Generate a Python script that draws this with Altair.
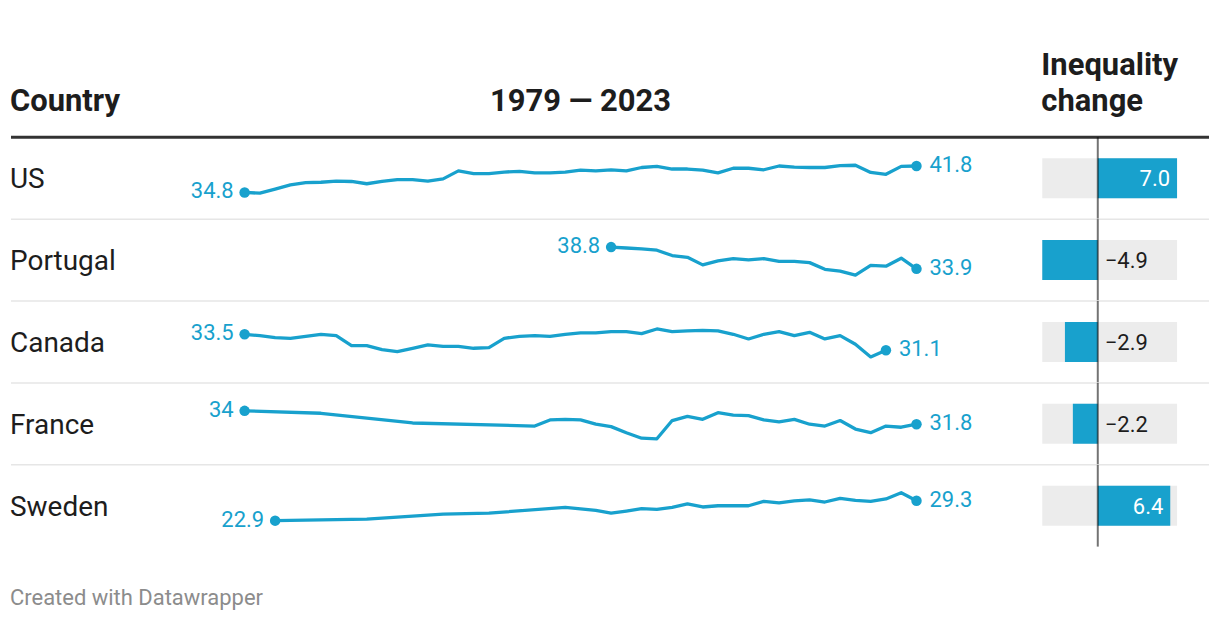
import altair as alt
import pandas as pd

BLUE = "#18a1cd"
DARK = "#1d1d1d"
FONT = "Roboto"

# ---------------- data ----------------
countries = ["US", "Portugal", "Canada", "France", "Sweden"]
changes = [7.0, -4.9, -2.9, -2.2, 6.4]

us_years = list(range(1979, 2024))
us_values = [34.8, 34.6, 35.7, 36.8, 37.4, 37.5, 37.8, 37.7, 37.1, 37.7,
             38.2, 38.2, 37.8, 38.4, 40.5, 39.8, 39.8, 40.2, 40.4, 40.0,
             40.0, 40.2, 40.7, 40.5, 40.8, 40.5, 41.4, 41.7, 41.0, 41.0,
             40.7, 40.0, 41.2, 41.2, 40.8, 41.8, 41.5, 41.4, 41.4, 41.9,
             42.0, 40.1, 39.6, 41.7, 41.8]

portugal_years = list(range(2003, 2024))
portugal_values = [38.8, 38.6, 38.4, 38.1, 36.9, 36.5, 34.8, 35.7, 36.2, 35.9,
                   36.2, 35.6, 35.6, 35.3, 33.8, 33.4, 32.5, 34.7, 34.5, 36.3,
                   33.9]

canada_years = list(range(1979, 2022))
canada_values = [33.5, 33.3, 33.0, 32.9, 33.2, 33.5, 33.3, 31.8, 31.8, 31.2,
                 30.9, 31.4, 31.9, 31.7, 31.7, 31.4, 31.5, 32.9, 33.2, 33.3,
                 33.2, 33.5, 33.7, 33.7, 33.9, 33.9, 33.6, 34.3, 33.9, 34.0,
                 34.1, 34.0, 33.5, 32.8, 33.5, 33.9, 33.3, 33.8, 32.8, 33.3,
                 32.0, 30.1, 31.1]

france_years = [1979, 1984, 1990] + list(range(1998, 2024))
france_values = [34.0, 33.6, 32.0,
                 31.5, 32.5, 32.6, 32.5, 31.8, 31.4, 30.4, 29.5, 29.4, 32.4,
                 33.1, 32.6, 33.7, 33.3, 33.2, 32.5, 32.2, 32.6, 31.8, 31.5,
                 32.4, 31.0, 30.4, 31.5, 31.3, 31.8]

sweden_years = [1981, 1987, 1992, 1995, 2000] + list(range(2001, 2024))
sweden_values = [22.9, 23.4, 25.0, 25.3, 27.2,
                 26.7, 26.2, 25.3, 26.0, 26.8, 26.5, 27.2, 28.3, 27.3, 27.7,
                 27.7, 27.7, 29.1, 28.6, 29.3, 29.6, 28.9, 30.1, 29.4, 29.1,
                 29.9, 31.9, 29.3]

header_country = "Country"
header_change = ["Inequality", "change"]
footer_text = "Created with Datawrapper"

series = {
    "US": (us_years, us_values),
    "Portugal": (portugal_years, portugal_values),
    "Canada": (canada_years, canada_values),
    "France": (france_years, france_values),
    "Sweden": (sweden_years, sweden_values),
}

first_year = min(min(y) for y, _ in series.values())
last_year = max(max(y) for y, _ in series.values())
header_years = f"{first_year} \u2014 {last_year}"

# ---------------- layout ----------------
W = 1204
ROW_H = 82
HEAD_H = 128
FOOT_H = 64

year_scale = alt.Scale(domain=[first_year, last_year], range=[236, 909])
chg_scale = alt.Scale(domain=[min(changes), max(changes)], range=[1035, 1170],
                      nice=False, zero=False)


def make_row(i, country):
    yrs, vals = series[country]
    d = pd.DataFrame({"year": yrs, "value": vals})
    start = d.iloc[[0]]
    end = d.iloc[[-1]]
    ends = d.iloc[[0, -1]]
    summ = pd.DataFrame({"country": [country], "change": [changes[i]]})

    xs = alt.X("year:Q", scale=year_scale, axis=None)
    ys = alt.Y("value:Q", scale=alt.Scale(zero=False, nice=False, range=[56, 28]), axis=None)

    line = alt.Chart(d).mark_line(color=BLUE, strokeWidth=3.3, strokeJoin="round").encode(x=xs, y=ys)
    pts = alt.Chart(ends).mark_circle(color=BLUE, size=110, opacity=1).encode(x=xs, y=ys)
    lbl_s = alt.Chart(start).mark_text(align="right", baseline="middle", dx=-11, dy=-1,
                                       fontSize=22, font=FONT, color=BLUE).encode(
        x=xs, y=ys, text=alt.Text("value:Q", format=".1~f"))
    lbl_e = alt.Chart(end).mark_text(align="left", baseline="middle", dx=13, dy=-1,
                                     fontSize=22, font=FONT, color=BLUE).encode(
        x=xs, y=ys, text=alt.Text("value:Q", format=".1~f"))
    spark = alt.layer(line, pts, lbl_s, lbl_e)

    xc = alt.X("change:Q", scale=chg_scale, axis=None)
    bg = alt.Chart(summ).mark_rect(color="#ececec").encode(
        x=alt.XDatum(min(changes), type="quantitative", scale=chg_scale, axis=None),
        x2=alt.X2Datum(max(changes)),
        y=alt.value(21), y2=alt.value(61))
    bar = alt.Chart(summ).mark_rect(color=BLUE).encode(
        x=xc, x2=alt.X2Datum(0), y=alt.value(21), y2=alt.value(61))
    if changes[i] >= 0:
        lbl = alt.Chart(summ).mark_text(align="right", baseline="middle", dx=-7,
                                        fontSize=22, font=FONT, color="white").encode(
            x=xc, y=alt.value(42), text=alt.Text("change:Q", format=".1f"))
    else:
        lbl = alt.Chart(summ).mark_text(align="left", baseline="middle", dx=7,
                                        fontSize=22, font=FONT, color=DARK).encode(
            x=alt.XDatum(0, type="quantitative", scale=chg_scale, axis=None),
            y=alt.value(42), text=alt.Text("change:Q", format=".1f"))
    zero = alt.Chart(summ).mark_rule(color="black", opacity=0.55, strokeWidth=2).encode(
        x=alt.XDatum(0, type="quantitative", scale=chg_scale, axis=None),
        y=alt.value(0), y2=alt.value(ROW_H))
    bars = alt.layer(bg, bar, lbl, zero)

    if i == 0:
        top = alt.Chart(summ).mark_rule(color="#333333", strokeWidth=3)
    else:
        top = alt.Chart(summ).mark_rule(color="#e6e6e6", strokeWidth=1.5)
    top = top.encode(x=alt.value(2), x2=alt.value(1202), y=alt.value(0))

    name = alt.Chart(summ).mark_text(align="left", baseline="middle", fontSize=28,
                                     font=FONT, color=DARK).encode(
        x=alt.value(1), y=alt.value(43), text="country:N")

    return alt.layer(top, name, spark, bars).resolve_scale(
        x="independent", y="independent").properties(width=W, height=ROW_H)


dummy = pd.DataFrame({"k": [0]})
head_style = dict(baseline="alphabetic", fontSize=31, fontWeight="bold", font=FONT, color=DARK)
header = alt.layer(
    alt.Chart(dummy).mark_text(text=header_country, align="left", **head_style).encode(
        x=alt.value(1), y=alt.value(102)),
    alt.Chart(dummy).mark_text(text=header_years, align="center", **head_style).encode(
        x=alt.value(572.5), y=alt.value(102)),
    alt.Chart(dummy).mark_text(text=header_change, align="left", lineHeight=36, **head_style).encode(
        x=alt.value(1034), y=alt.value(66)),
).properties(width=W, height=HEAD_H)

footer = alt.Chart(dummy).mark_text(text=footer_text, align="left", baseline="alphabetic",
                                    fontSize=22, font=FONT, color="#8c8c8c").encode(
    x=alt.value(1), y=alt.value(58)).properties(width=W, height=FOOT_H)

rows = [make_row(i, c) for i, c in enumerate(countries)]

chart = alt.vconcat(header, *rows, footer, spacing=0, bounds="flush").resolve_scale(
    x="independent", y="independent").properties(padding=0).configure_view(
    stroke="transparent")

chart.save("out.html", embed_options={"renderer": "svg", "actions": False})
